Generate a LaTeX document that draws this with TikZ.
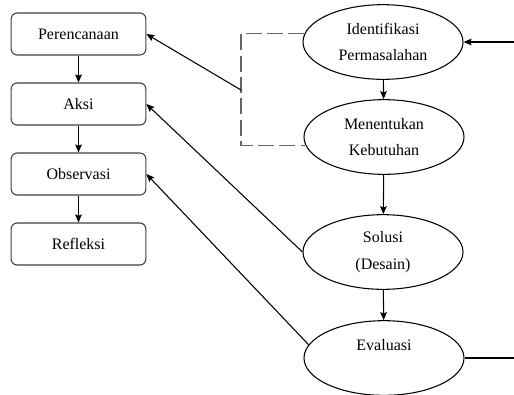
\documentclass[tikz,border=0pt]{standalone}
\usepackage{fontspec}
\setmainfont{Liberation Serif}
\usetikzlibrary{calc,shapes.geometric, arrows, arrows.meta}
\tikzstyle{kotak} = [rectangle, rounded corners=4.5pt, minimum width=101pt, minimum height=31.5pt, text centered, line width=0.8pt, draw=black!75]
\tikzstyle{elips} = [ellipse, minimum width=120pt, minimum height=56pt, align=center, line width=0.8pt, draw=black, font=\fontsize{12}{20}\selectfont]
\tikzstyle{arrow} = [line width=0.8pt,->,>={Stealth[length=6pt,width=5pt,inset=1pt]}]
\tikzstyle{putus} = [line width=0.8pt, black!60, dash pattern=on 12pt off 4pt]

\begin{document}
\begin{tikzpicture}[x=0.75pt, y=-0.75pt, node distance=52.5pt, font=\fontsize{12}{14}\selectfont]
\useasboundingbox (0,0) rectangle (514,394);
\node (per) [kotak] at (78.5,34) {Perencanaan};
\node (aksi) [kotak, below of=per] {Aksi};
\node (obs) [kotak, below of=aksi] {Observasi};
\node (ref) [kotak, below of=obs] {Refleksi};

\node (iden) [elips] at (383,42) {Identifikasi\\Permasalahan};
\node (tentu) [elips] at (384,137) {Menentukan\\Kebutuhan};
\node (solusi) [elips] at (383,252) {Solusi\\(Desain)};
\node (eval) [elips] at (384,358) {Evaluasi\\~};

\coordinate (kurung) at (241,90);
\coordinate (kanan) at (514,200);

\draw [arrow] (per) -- (aksi);
\draw [arrow] (aksi) -- (obs);
\draw [arrow] (obs) -- (ref);
\draw [arrow] (iden) -- (tentu);
\draw [arrow] (tentu) -- (solusi);
\draw [arrow] (solusi) -- (eval);

\draw [putus] (iden.174) -| (kurung) |- (tentu.186);
\draw [arrow] (kurung) -- (per.east);
\draw [arrow] (solusi.west) -- (aksi.east);
\draw [arrow] (eval.170) -- (obs.east);

\draw [arrow] (iden.east -| kanan) -- (iden.east);
\draw [line width=0.8pt] (eval.east) -- (eval.east -| kanan);
\end{tikzpicture}
\end{document}
